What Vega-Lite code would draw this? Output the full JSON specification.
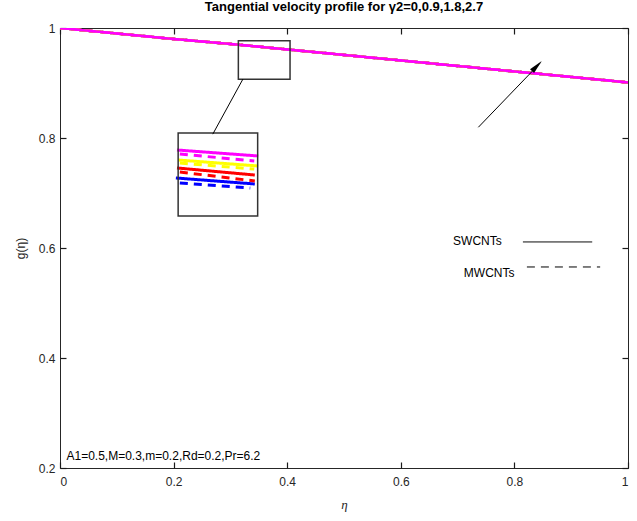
{
  "$schema": "https://vega.github.io/schema/vega-lite/v6.json",
  "width": 568,
  "height": 440,
  "autosize": {"type": "none"},
  "padding": {"left": 60, "top": 28, "right": 9, "bottom": 53},
  "background": "white",
  "config": {
    "view": {"stroke": "#262626", "strokeWidth": 1},
    "font": "Liberation Sans",
    "axis": {
      "grid": false,
      "domain": false,
      "ticks": true,
      "tickSize": 6,
      "offset": -6,
      "tickColor": "#1a1a1a",
      "tickWidth": 1.2,
      "labelFont": "Liberation Sans",
      "labelFontSize": 12,
      "labelColor": "#262626",
      "titleFontWeight": "normal",
      "titleColor": "#262626"
    }
  },
  "title": {
    "text": "Tangential velocity profile for  γ2=0,0.9,1.8,2.7",
    "font": "Liberation Sans",
    "fontSize": 13,
    "fontWeight": "bold",
    "color": "#000000",
    "offset": 8
  },
  "datasets": {
    "curves": [
      {"eta": 0, "g": 1, "gamma": "0", "cnt": "MWCNTs"},
      {"eta": 0.1, "g": 0.99, "gamma": "0", "cnt": "MWCNTs"},
      {"eta": 0.2, "g": 0.98, "gamma": "0", "cnt": "MWCNTs"},
      {"eta": 0.3, "g": 0.971, "gamma": "0", "cnt": "MWCNTs"},
      {"eta": 0.4, "g": 0.961, "gamma": "0", "cnt": "MWCNTs"},
      {"eta": 0.5, "g": 0.951, "gamma": "0", "cnt": "MWCNTs"},
      {"eta": 0.6, "g": 0.941, "gamma": "0", "cnt": "MWCNTs"},
      {"eta": 0.7, "g": 0.931, "gamma": "0", "cnt": "MWCNTs"},
      {"eta": 0.8, "g": 0.921, "gamma": "0", "cnt": "MWCNTs"},
      {"eta": 0.9, "g": 0.911, "gamma": "0", "cnt": "MWCNTs"},
      {"eta": 1.0, "g": 0.901, "gamma": "0", "cnt": "MWCNTs"},
      {"eta": 0, "g": 1, "gamma": "0", "cnt": "SWCNTs"},
      {"eta": 0.1, "g": 0.99, "gamma": "0", "cnt": "SWCNTs"},
      {"eta": 0.2, "g": 0.98, "gamma": "0", "cnt": "SWCNTs"},
      {"eta": 0.3, "g": 0.971, "gamma": "0", "cnt": "SWCNTs"},
      {"eta": 0.4, "g": 0.961, "gamma": "0", "cnt": "SWCNTs"},
      {"eta": 0.5, "g": 0.951, "gamma": "0", "cnt": "SWCNTs"},
      {"eta": 0.6, "g": 0.941, "gamma": "0", "cnt": "SWCNTs"},
      {"eta": 0.7, "g": 0.931, "gamma": "0", "cnt": "SWCNTs"},
      {"eta": 0.8, "g": 0.921, "gamma": "0", "cnt": "SWCNTs"},
      {"eta": 0.9, "g": 0.911, "gamma": "0", "cnt": "SWCNTs"},
      {"eta": 1.0, "g": 0.901, "gamma": "0", "cnt": "SWCNTs"},
      {"eta": 0, "g": 1, "gamma": "0.9", "cnt": "MWCNTs"},
      {"eta": 0.1, "g": 0.99, "gamma": "0.9", "cnt": "MWCNTs"},
      {"eta": 0.2, "g": 0.98, "gamma": "0.9", "cnt": "MWCNTs"},
      {"eta": 0.3, "g": 0.971, "gamma": "0.9", "cnt": "MWCNTs"},
      {"eta": 0.4, "g": 0.961, "gamma": "0.9", "cnt": "MWCNTs"},
      {"eta": 0.5, "g": 0.951, "gamma": "0.9", "cnt": "MWCNTs"},
      {"eta": 0.6, "g": 0.941, "gamma": "0.9", "cnt": "MWCNTs"},
      {"eta": 0.7, "g": 0.931, "gamma": "0.9", "cnt": "MWCNTs"},
      {"eta": 0.8, "g": 0.921, "gamma": "0.9", "cnt": "MWCNTs"},
      {"eta": 0.9, "g": 0.911, "gamma": "0.9", "cnt": "MWCNTs"},
      {"eta": 1.0, "g": 0.901, "gamma": "0.9", "cnt": "MWCNTs"},
      {"eta": 0, "g": 1, "gamma": "0.9", "cnt": "SWCNTs"},
      {"eta": 0.1, "g": 0.99, "gamma": "0.9", "cnt": "SWCNTs"},
      {"eta": 0.2, "g": 0.98, "gamma": "0.9", "cnt": "SWCNTs"},
      {"eta": 0.3, "g": 0.971, "gamma": "0.9", "cnt": "SWCNTs"},
      {"eta": 0.4, "g": 0.961, "gamma": "0.9", "cnt": "SWCNTs"},
      {"eta": 0.5, "g": 0.951, "gamma": "0.9", "cnt": "SWCNTs"},
      {"eta": 0.6, "g": 0.941, "gamma": "0.9", "cnt": "SWCNTs"},
      {"eta": 0.7, "g": 0.931, "gamma": "0.9", "cnt": "SWCNTs"},
      {"eta": 0.8, "g": 0.921, "gamma": "0.9", "cnt": "SWCNTs"},
      {"eta": 0.9, "g": 0.911, "gamma": "0.9", "cnt": "SWCNTs"},
      {"eta": 1.0, "g": 0.901, "gamma": "0.9", "cnt": "SWCNTs"},
      {"eta": 0, "g": 1, "gamma": "1.8", "cnt": "MWCNTs"},
      {"eta": 0.1, "g": 0.99, "gamma": "1.8", "cnt": "MWCNTs"},
      {"eta": 0.2, "g": 0.98, "gamma": "1.8", "cnt": "MWCNTs"},
      {"eta": 0.3, "g": 0.971, "gamma": "1.8", "cnt": "MWCNTs"},
      {"eta": 0.4, "g": 0.961, "gamma": "1.8", "cnt": "MWCNTs"},
      {"eta": 0.5, "g": 0.951, "gamma": "1.8", "cnt": "MWCNTs"},
      {"eta": 0.6, "g": 0.941, "gamma": "1.8", "cnt": "MWCNTs"},
      {"eta": 0.7, "g": 0.931, "gamma": "1.8", "cnt": "MWCNTs"},
      {"eta": 0.8, "g": 0.921, "gamma": "1.8", "cnt": "MWCNTs"},
      {"eta": 0.9, "g": 0.911, "gamma": "1.8", "cnt": "MWCNTs"},
      {"eta": 1.0, "g": 0.901, "gamma": "1.8", "cnt": "MWCNTs"},
      {"eta": 0, "g": 1, "gamma": "1.8", "cnt": "SWCNTs"},
      {"eta": 0.1, "g": 0.99, "gamma": "1.8", "cnt": "SWCNTs"},
      {"eta": 0.2, "g": 0.98, "gamma": "1.8", "cnt": "SWCNTs"},
      {"eta": 0.3, "g": 0.971, "gamma": "1.8", "cnt": "SWCNTs"},
      {"eta": 0.4, "g": 0.961, "gamma": "1.8", "cnt": "SWCNTs"},
      {"eta": 0.5, "g": 0.951, "gamma": "1.8", "cnt": "SWCNTs"},
      {"eta": 0.6, "g": 0.941, "gamma": "1.8", "cnt": "SWCNTs"},
      {"eta": 0.7, "g": 0.931, "gamma": "1.8", "cnt": "SWCNTs"},
      {"eta": 0.8, "g": 0.921, "gamma": "1.8", "cnt": "SWCNTs"},
      {"eta": 0.9, "g": 0.911, "gamma": "1.8", "cnt": "SWCNTs"},
      {"eta": 1.0, "g": 0.901, "gamma": "1.8", "cnt": "SWCNTs"},
      {"eta": 0, "g": 1, "gamma": "2.7", "cnt": "MWCNTs"},
      {"eta": 0.1, "g": 0.99, "gamma": "2.7", "cnt": "MWCNTs"},
      {"eta": 0.2, "g": 0.98, "gamma": "2.7", "cnt": "MWCNTs"},
      {"eta": 0.3, "g": 0.971, "gamma": "2.7", "cnt": "MWCNTs"},
      {"eta": 0.4, "g": 0.961, "gamma": "2.7", "cnt": "MWCNTs"},
      {"eta": 0.5, "g": 0.951, "gamma": "2.7", "cnt": "MWCNTs"},
      {"eta": 0.6, "g": 0.941, "gamma": "2.7", "cnt": "MWCNTs"},
      {"eta": 0.7, "g": 0.931, "gamma": "2.7", "cnt": "MWCNTs"},
      {"eta": 0.8, "g": 0.921, "gamma": "2.7", "cnt": "MWCNTs"},
      {"eta": 0.9, "g": 0.911, "gamma": "2.7", "cnt": "MWCNTs"},
      {"eta": 1.0, "g": 0.901, "gamma": "2.7", "cnt": "MWCNTs"},
      {"eta": 0, "g": 1, "gamma": "2.7", "cnt": "SWCNTs"},
      {"eta": 0.1, "g": 0.99, "gamma": "2.7", "cnt": "SWCNTs"},
      {"eta": 0.2, "g": 0.98, "gamma": "2.7", "cnt": "SWCNTs"},
      {"eta": 0.3, "g": 0.971, "gamma": "2.7", "cnt": "SWCNTs"},
      {"eta": 0.4, "g": 0.961, "gamma": "2.7", "cnt": "SWCNTs"},
      {"eta": 0.5, "g": 0.951, "gamma": "2.7", "cnt": "SWCNTs"},
      {"eta": 0.6, "g": 0.941, "gamma": "2.7", "cnt": "SWCNTs"},
      {"eta": 0.7, "g": 0.931, "gamma": "2.7", "cnt": "SWCNTs"},
      {"eta": 0.8, "g": 0.921, "gamma": "2.7", "cnt": "SWCNTs"},
      {"eta": 0.9, "g": 0.911, "gamma": "2.7", "cnt": "SWCNTs"},
      {"eta": 1.0, "g": 0.901, "gamma": "2.7", "cnt": "SWCNTs"}
    ],
    "inset": [
      {"eta": 0.204, "g": 0.7273, "gamma": "0", "cnt": "SWCNTs"},
      {"eta": 0.343, "g": 0.7164, "gamma": "0", "cnt": "SWCNTs"},
      {"eta": 0.211, "g": 0.7182, "gamma": "0", "cnt": "MWCNTs"},
      {"eta": 0.335, "g": 0.7091, "gamma": "0", "cnt": "MWCNTs"},
      {"eta": 0.206, "g": 0.7455, "gamma": "0.9", "cnt": "SWCNTs"},
      {"eta": 0.343, "g": 0.7327, "gamma": "0.9", "cnt": "SWCNTs"},
      {"eta": 0.211, "g": 0.7382, "gamma": "0.9", "cnt": "MWCNTs"},
      {"eta": 0.343, "g": 0.7218, "gamma": "0.9", "cnt": "MWCNTs"},
      {"eta": 0.208, "g": 0.76, "gamma": "1.8", "cnt": "SWCNTs"},
      {"eta": 0.349, "g": 0.7491, "gamma": "1.8", "cnt": "SWCNTs"},
      {"eta": 0.211, "g": 0.7545, "gamma": "1.8", "cnt": "MWCNTs"},
      {"eta": 0.342, "g": 0.7436, "gamma": "1.8", "cnt": "MWCNTs"},
      {"eta": 0.206, "g": 0.7782, "gamma": "2.7", "cnt": "SWCNTs"},
      {"eta": 0.349, "g": 0.7673, "gamma": "2.7", "cnt": "SWCNTs"},
      {"eta": 0.211, "g": 0.7709, "gamma": "2.7", "cnt": "MWCNTs"},
      {"eta": 0.342, "g": 0.7582, "gamma": "2.7", "cnt": "MWCNTs"}
    ],
    "boxes": [
      {"x1": 0.208, "x2": 0.348, "y1": 0.658, "y2": 0.809},
      {"x1": 0.314, "x2": 0.405, "y1": 0.9067, "y2": 0.9769}
    ],
    "segments": [
      {"eta": 0.269, "g": 0.807, "eta2": 0.322, "g2": 0.907},
      {"eta": 0.7365, "g": 0.8195, "eta2": 0.846, "g2": 0.937}
    ],
    "heads": [{"eta": 0.8396, "g": 0.9307}],
    "legend": [
      {"cnt": "SWCNTs", "eta": 0.815, "eta2": 0.937, "g": 0.611},
      {"cnt": "MWCNTs", "eta": 0.822, "eta2": 0.951, "g": 0.5655}
    ],
    "labels": [
      {"label": "SWCNTs", "eta": 0.692, "g": 0.613},
      {"label": "MWCNTs", "eta": 0.711, "g": 0.5545},
      {"label": "A1=0.5,M=0.3,m=0.2,Rd=0.2,Pr=6.2", "eta": 0.0114, "g": 0.2218}
    ]
  },
  "layer": [
    {
      "data": {"name": "curves"},
      "mark": {"type": "line", "strokeWidth": 2.5, "clip": true},
      "encoding": {
        "x": {
          "field": "eta", "type": "quantitative",
          "scale": {"domain": [0, 1], "nice": false, "zero": false},
          "axis": {"orient": "bottom", "values": [0, 0.2, 0.4, 0.6, 0.8, 1], "format": "~g", "labelPadding": 8,
            "title": "η", "titleFont": "Liberation Serif", "titleFontStyle": "italic", "titleFontSize": 13, "titlePadding": 11}
        },
        "y": {
          "field": "g", "type": "quantitative",
          "scale": {"domain": [0.2, 1], "nice": false, "zero": false},
          "axis": {"orient": "left", "values": [0.2, 0.4, 0.6, 0.8, 1], "format": "~g", "labelPadding": 5,
            "title": "g(η)", "titleFont": "Liberation Sans", "titleFontSize": 12, "titlePadding": 11}
        },
        "color": {
          "field": "gamma", "type": "nominal",
          "scale": {"domain": ["0", "0.9", "1.8", "2.7"], "range": ["#0000ff", "#ff0000", "#ffff00", "#ff00ff"]},
          "legend": null
        },
        "strokeDash": {
          "field": "cnt", "type": "nominal",
          "scale": {"domain": ["SWCNTs", "MWCNTs"], "range": [[1, 0], [8, 6]]},
          "legend": null
        }
      }
    },
    {
      "data": {"name": "inset"},
      "mark": {"type": "line", "strokeWidth": 3},
      "encoding": {
        "x": {"field": "eta", "type": "quantitative", "axis": null},
        "y": {"field": "g", "type": "quantitative", "axis": null},
        "color": {"field": "gamma", "type": "nominal", "legend": null},
        "strokeDash": {"field": "cnt", "type": "nominal", "legend": null}
      }
    },
    {
      "data": {"name": "boxes"},
      "mark": {"type": "rect", "filled": false, "stroke": "#333333", "strokeWidth": 1.5},
      "encoding": {
        "x": {"field": "x1", "type": "quantitative", "axis": null},
        "x2": {"field": "x2"},
        "y": {"field": "y1", "type": "quantitative", "axis": null},
        "y2": {"field": "y2"}
      }
    },
    {
      "data": {"name": "segments"},
      "mark": {"type": "rule", "color": "#000000", "strokeWidth": 1},
      "encoding": {
        "x": {"field": "eta", "type": "quantitative", "axis": null},
        "x2": {"field": "eta2"},
        "y": {"field": "g", "type": "quantitative", "axis": null},
        "y2": {"field": "g2"}
      }
    },
    {
      "data": {"name": "heads"},
      "mark": {"type": "point", "shape": "M0,-1L0.4,1L-0.4,1Z", "filled": true, "color": "#000000", "opacity": 1, "size": 196, "angle": 43.7},
      "encoding": {
        "x": {"field": "eta", "type": "quantitative", "axis": null},
        "y": {"field": "g", "type": "quantitative", "axis": null}
      }
    },
    {
      "data": {"name": "legend"},
      "mark": {"type": "rule", "color": "#000000", "strokeWidth": 1},
      "encoding": {
        "x": {"field": "eta", "type": "quantitative", "axis": null},
        "x2": {"field": "eta2"},
        "y": {"field": "g", "type": "quantitative", "axis": null},
        "strokeDash": {"field": "cnt", "type": "nominal", "legend": null}
      }
    },
    {
      "data": {"name": "labels"},
      "mark": {"type": "text", "align": "left", "baseline": "middle", "font": "Liberation Sans", "fontSize": 12, "color": "#000000"},
      "encoding": {
        "x": {"field": "eta", "type": "quantitative", "axis": null},
        "y": {"field": "g", "type": "quantitative", "axis": null},
        "text": {"field": "label"}
      }
    },
    {
      "data": {"values": [{"eta": 0, "g": 1}]},
      "mark": {"type": "point", "opacity": 0},
      "encoding": {
        "x": {"field": "eta", "type": "quantitative",
          "axis": {"orient": "top", "values": [0, 0.2, 0.4, 0.6, 0.8, 1], "labels": false, "title": null}},
        "y": {"field": "g", "type": "quantitative",
          "axis": {"orient": "right", "values": [0.2, 0.4, 0.6, 0.8, 1], "labels": false, "title": null}}
      }
    }
  ],
  "resolve": {"axis": {"x": "independent", "y": "independent"}}
}
